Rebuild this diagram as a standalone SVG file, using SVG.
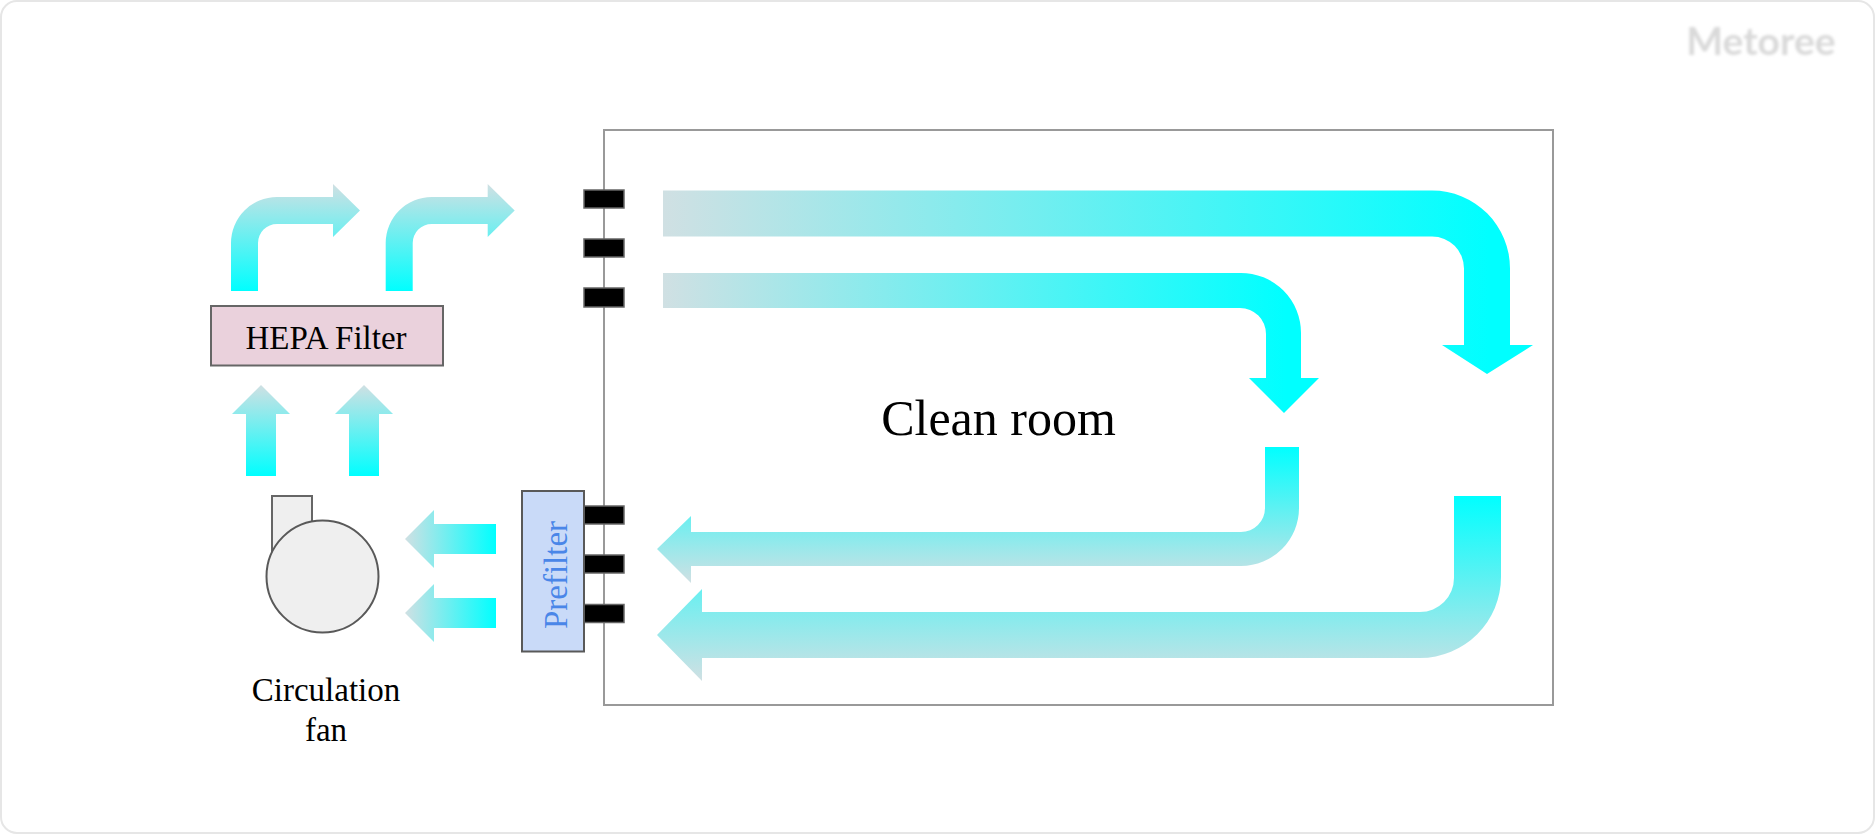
<svg xmlns="http://www.w3.org/2000/svg" width="1875" height="834" viewBox="0 0 1875 834">
  <defs>
    <linearGradient id="flowRight" x1="0" y1="0" x2="1" y2="0"><stop offset="0" stop-color="#d0e0e3"/><stop offset="0.95" stop-color="#00ffff"/><stop offset="1" stop-color="#00ffff"/></linearGradient>
    <linearGradient id="flowLeft" x1="1" y1="0" x2="0" y2="0"><stop offset="0" stop-color="#00ffff"/><stop offset="1" stop-color="#d0e0e3"/></linearGradient>
    <linearGradient id="flowUp" x1="0" y1="1" x2="0" y2="0"><stop offset="0" stop-color="#00ffff"/><stop offset="1" stop-color="#d0e0e3"/></linearGradient>
    <linearGradient id="flowDown" x1="0" y1="0" x2="0" y2="1"><stop offset="0" stop-color="#00ffff"/><stop offset="1" stop-color="#d0e0e3"/></linearGradient>
    <filter id="soft" x="-10%" y="-30%" width="120%" height="160%"><feGaussianBlur stdDeviation="1.4"/></filter>
    <path id="bendArrow" d="M231 291V243A46 46 0 0 1 277 197H333V184L360 210.500L333 237V224H277A19 19 0 0 0 258 243V291Z"/>
    <path id="upArrow" d="M246 476V414H232L261 385L290 414H276V476Z"/>
    <path id="leftArrow" d="M496 524H434V510L405 539L434 568V554H496Z"/>
  </defs>
  <style>
    .label { font-family: "Liberation Serif", "Times New Roman", serif; font-size: 33px; fill: #000; text-anchor: middle; }
    .vent { fill: #000; stroke: #666; stroke-width: 1.5; }
  </style>

  <rect id="card" x="1" y="1" width="1873" height="832" rx="16" fill="#fff" stroke="#e6e6e6" stroke-width="2"/>
  <text id="brand" x="1761" y="55" filter="url(#soft)" font-family="Lato, 'Open Sans', sans-serif" font-weight="700" font-size="39" fill="#d9d9d9" text-anchor="middle">Metoree</text>

  <g id="clean-room">
    <rect x="604" y="130" width="949" height="575" fill="#fff" stroke="#999" stroke-width="2"/>
    <text x="998.500" y="435" class="label" style="font-size:50px">Clean room</text>
  </g>

  <g id="connectors">
    <use href="#bendArrow" fill="url(#flowUp)"/>
    <use href="#bendArrow" x="154.700" fill="url(#flowUp)"/>
    <use href="#upArrow" fill="url(#flowUp)"/>
    <use href="#upArrow" x="103" fill="url(#flowUp)"/>
    <use href="#leftArrow" fill="url(#flowLeft)"/>
    <use href="#leftArrow" y="74" fill="url(#flowLeft)"/>
    <path d="M663 190.500H1432A78 78 0 0 1 1510 268.500V345H1533L1487 374L1442 345H1464V268.500A32 32 0 0 0 1432 236.500H663Z" fill="url(#flowRight)"/>
    <path d="M663 273H1240A60 60 0 0 1 1301 334V378H1319L1284 413L1249 378H1266V334A26 26 0 0 0 1240 308H663Z" fill="url(#flowRight)"/>
    <path d="M1265 447V508A24 24 0 0 1 1241 532H691V516L657 549L691 583V566H1241A58 58 0 0 0 1299 508V447Z" fill="url(#flowDown)"/>
    <path d="M1454 496V578A34 34 0 0 1 1420 612H702V589L657 635L702 681V658H1420A81 81 0 0 0 1501 577V496Z" fill="url(#flowDown)"/>
  </g>

  <g id="vents">
    <rect class="vent" x="584" y="190" width="40" height="18"/>
    <rect class="vent" x="584" y="239" width="40" height="18"/>
    <rect class="vent" x="584" y="288" width="40" height="19"/>
    <rect class="vent" x="584" y="506" width="40" height="18"/>
    <rect class="vent" x="584" y="555" width="40" height="18"/>
    <rect class="vent" x="584" y="604.500" width="40" height="18"/>
  </g>

  <g id="hepa-filter">
    <rect x="211" y="306" width="232" height="59.500" fill="#ead1dc" stroke="#666" stroke-width="2"/>
    <text x="326" y="349" class="label">HEPA Filter</text>
  </g>

  <g id="prefilter">
    <rect x="522" y="491" width="62" height="160.500" fill="#c9daf8" stroke="#595959" stroke-width="2"/>
    <text transform="translate(567 575) rotate(-90)" class="label" style="fill:#4a86e8">Prefilter</text>
  </g>

  <g id="circulation-fan">
    <rect x="272" y="496" width="40" height="60" fill="#efefef" stroke="#666" stroke-width="2"/>
    <circle cx="322.500" cy="576.500" r="56" fill="#efefef" stroke="#595959" stroke-width="2"/>
    <text class="label"><tspan x="326" y="701">Circulation</tspan><tspan x="326" y="741">fan</tspan></text>
  </g>
</svg>
